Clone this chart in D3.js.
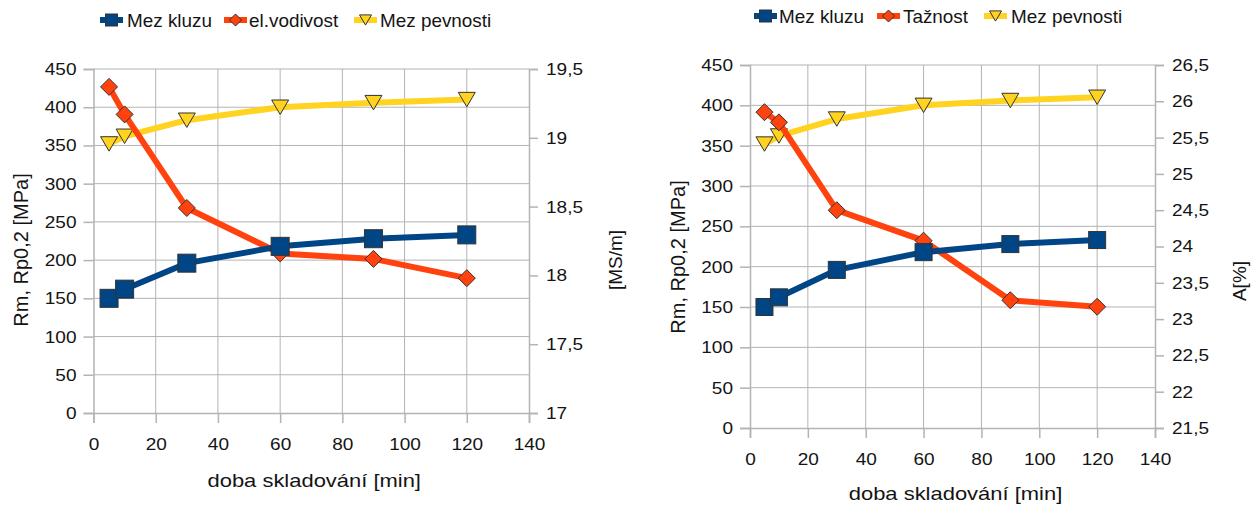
<!DOCTYPE html>
<html>
<head>
<meta charset="utf-8">
<script src="https://cdn.jsdelivr.net/npm/d3@7"></script>
<style>
  html, body { margin: 0; padding: 0; background: #fff; }
  svg { display: block; }
  text { font-family: "Liberation Sans", Arial, sans-serif; fill: #141414; }
</style>
</head>
<body>
<svg id="chart" width="1251" height="507"></svg>
<script>
// Storage time [min]
const times = [5, 10, 30, 60, 90, 120];
// Yield strength Rp0,2 [MPa]
const mezKluzu = [150, 162, 196, 218, 228, 233];
// Tensile strength Rm [MPa]
const mezPevnosti = [352, 362, 383, 400, 406, 410];
// Electrical conductivity [MS/m]
const elVodivost = [19.37, 19.17, 18.49, 18.16, 18.12, 17.98];
// Elongation A [%]
const taznost = [25.85, 25.71, 24.5, 24.08, 23.26, 23.17];

const xTicks = [0, 20, 40, 60, 80, 100, 120, 140];
const mpaTicks = [0, 50, 100, 150, 200, 250, 300, 350, 400, 450];
const msmTicks = [17, 17.5, 18, 18.5, 19, 19.5];
const aTicks = [21.5, 22, 22.5, 23, 23.5, 24, 24.5, 25, 25.5, 26, 26.5];

const BLUE = "#004586", RED = "#ff420e", YELLOW = "#ffd320";
const GRID = "#b3b3b3", OUTLINE = "#333333";
const SX = 1.12;       // horizontal stretch of tick lettering
const SX_TITLE = 1.22; // horizontal stretch of the x-axis title

const svg = d3.select("#chart");
const fmt = d => String(d).replace(".", ",");

function stretchText(sel, sx) {
  sel.each(function () {
    const t = d3.select(this);
    const x = +t.attr("x") || 0;
    t.attr("x", x / sx).attr("transform", `scale(${sx},1)`);
  });
}

function marker(g, type, cx, cy, fill, size) {
  if (type === "square") {
    g.append("rect").attr("x", cx - size / 2).attr("y", cy - size / 2)
      .attr("width", size).attr("height", size)
      .attr("fill", fill).attr("stroke", OUTLINE).attr("stroke-width", 1);
  } else if (type === "diamond") {
    const r = size / 2;
    g.append("path").attr("d", `M${cx},${cy - r}L${cx + r},${cy}L${cx},${cy + r}L${cx - r},${cy}Z`)
      .attr("fill", fill).attr("stroke", OUTLINE).attr("stroke-width", 1);
  } else {
    const w = size / 2, h = size * 0.85;
    g.append("path").attr("d", `M${cx - w},${cy - h / 2}L${cx + w},${cy - h / 2}L${cx},${cy + h / 2}Z`)
      .attr("fill", fill).attr("stroke", OUTLINE).attr("stroke-width", 1);
  }
}

function panel(cfg) {
  const g = svg.append("g");
  const x = d3.scaleLinear().domain([0, 140]).range([cfg.x0, cfg.x1]);
  const yL = d3.scaleLinear().domain([0, 450]).range([cfg.yB, cfg.yT]);
  const yR = d3.scaleLinear().domain(cfg.rDomain).range([cfg.yB, cfg.yT]);

  // grid
  g.append("g").selectAll("line").data(mpaTicks.slice(1)).join("line")
    .attr("x1", cfg.x0).attr("x2", cfg.x1)
    .attr("y1", d => yL(d)).attr("y2", d => yL(d))
    .attr("stroke", GRID).attr("stroke-width", 1);
  g.append("g").selectAll("line").data(xTicks.slice(1, -1)).join("line")
    .attr("x1", d => x(d)).attr("x2", d => x(d))
    .attr("y1", cfg.yT).attr("y2", cfg.yB)
    .attr("stroke", GRID).attr("stroke-width", 1);

  // axes
  const ax = g.append("g").attr("transform", `translate(0,${cfg.yB})`)
    .call(d3.axisBottom(x).tickValues(xTicks).tickSize(10).tickPadding(cfg.xPad).tickFormat(fmt));
  const al = g.append("g").attr("transform", `translate(${cfg.x0},0)`)
    .call(d3.axisLeft(yL).tickValues(mpaTicks).tickSize(10).tickPadding(7).tickFormat(fmt));
  const ar = g.append("g").attr("transform", `translate(${cfg.x1},0)`)
    .call(d3.axisRight(yR).tickValues(cfg.rTicks).tickSize(9).tickPadding(8).tickFormat(fmt));
  [ax, al, ar].forEach(a => {
    a.select(".domain").attr("stroke", GRID).attr("stroke-width", 1.5);
    a.selectAll(".tick line").attr("stroke", GRID).attr("stroke-width", 1.5);
    a.selectAll(".tick text").style("font-size", "17px").style("font-family", "Liberation Sans, Arial, sans-serif")
      .attr("fill", "#141414").call(stretchText, SX);
  });

  // series: yellow under red under blue
  const series = [
    { v: mezPevnosti, y: yL, c: YELLOW, m: "triangle", s: 17 },
    { v: cfg.rValues, y: yR, c: RED, m: "diamond", s: 17 },
    { v: mezKluzu, y: yL, c: BLUE, m: "square", s: cfg.sq }
  ];
  series.forEach(s => {
    const line = d3.line().x((d, i) => x(times[i])).y(d => s.y(d));
    g.append("path").attr("d", line(s.v)).attr("fill", "none")
      .attr("stroke", s.c).attr("stroke-width", 6).attr("stroke-linejoin", "round");
    const mg = g.append("g");
    s.v.forEach((d, i) => marker(mg, s.m, x(times[i]), s.y(d), s.c, s.s));
  });

  // axis titles
  g.append("text").attr("x", (cfg.x0 + cfg.x1) / 2 + cfg.xTitleDx).attr("y", cfg.xTitleY)
    .attr("text-anchor", "middle").style("font-size", "18px").text("doba skladování [min]")
    .call(stretchText, SX_TITLE);
  g.append("text").attr("transform", `translate(${cfg.lTitleX},${cfg.lTitleY}) rotate(-90)`)
    .attr("text-anchor", "middle").style("font-size", "20px").text("Rm, Rp0,2 [MPa]");
  g.append("text").attr("transform", `translate(${cfg.rTitleX},${cfg.rTitleY}) rotate(-90)`)
    .attr("text-anchor", "middle").style("font-size", "19px").text(cfg.rTitle);

  // legend
  const lg = g.append("g");
  cfg.legend.forEach(it => {
    lg.append("line").attr("x1", it.x).attr("x2", it.x + 23)
      .attr("y1", cfg.legY).attr("y2", cfg.legY)
      .attr("stroke", it.c).attr("stroke-width", 6);
    marker(lg, it.m, it.x + 11.5, cfg.legY, it.c, 12);
    lg.append("text").attr("x", it.tx).attr("y", cfg.legY + 7)
      .style("font-size", "18px").text(it.label).call(stretchText, 1.05);
  });
}

panel({
  x0: 93.5, x1: 529, yT: 69, yB: 413,
  rDomain: [17, 19.5], rTicks: msmTicks, rValues: elVodivost, rTitle: "[MS/m]",
  xPad: 15, xTitleY: 487, xTitleDx: 3, sq: 18,
  lTitleX: 28, lTitleY: 250, rTitleX: 622, rTitleY: 260,
  legY: 20,
  legend: [
    { x: 100, tx: 127, c: BLUE, m: "square", label: "Mez kluzu" },
    { x: 224, tx: 249, c: RED, m: "diamond", label: "el.vodivost" },
    { x: 354, tx: 380, c: YELLOW, m: "triangle", label: "Mez pevnosti" }
  ]
});

panel({
  x0: 750, x1: 1155, yT: 65, yB: 428,
  rDomain: [21.5, 26.5], rTicks: aTicks, rValues: taznost, rTitle: "A[%]",
  xPad: 15, xTitleY: 500, xTitleDx: 3, sq: 17,
  lTitleX: 685, lTitleY: 257, rTitleX: 1246, rTitleY: 281,
  legY: 16,
  legend: [
    { x: 754, tx: 779, c: BLUE, m: "square", label: "Mez kluzu" },
    { x: 877, tx: 903, c: RED, m: "diamond", label: "Tažnost" },
    { x: 984, tx: 1011, c: YELLOW, m: "triangle", label: "Mez pevnosti" }
  ]
});
</script>
</body>
</html>
